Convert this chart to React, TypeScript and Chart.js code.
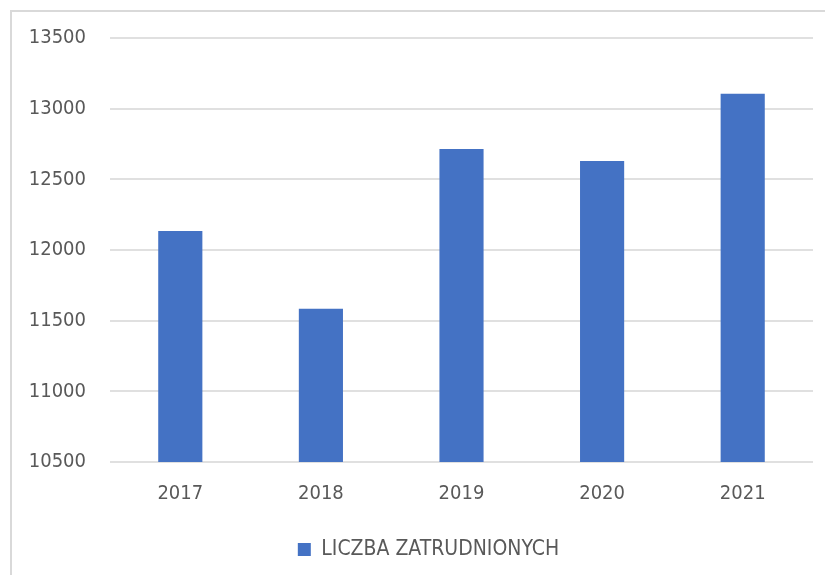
import React, { useEffect, useRef } from "react";
import { Chart, registerables } from "chart.js";

Chart.register(...registerables);

const categories = ["2017", "2018", "2019", "2020", "2021"];
const employees = [12135, 11585, 12715, 12630, 13105];
const seriesLabel = "LICZBA ZATRUDNIONYCH";
const yMin = 10500;
const yMax = 13500;
const yStep = 500;

const FONT = "'DejaVu Sans Condensed', 'Liberation Sans Narrow', 'DejaVu Sans', sans-serif";

const legendShift = {
  id: "legendShift",
  afterLayout(chart: any) {
    const lg = chart.legend;
    if (lg) {
      lg.left += 16;
      lg.right += 16;
    }
  },
};

export default function App() {
  const ref = useRef<HTMLCanvasElement | null>(null);

  useEffect(() => {
    document.body.style.margin = "0";
    const ctx = ref.current;
    if (!ctx) return;
    const chart = new Chart(ctx, {
      type: "bar",
      data: {
        labels: categories,
        datasets: [
          {
            label: seriesLabel,
            data: employees,
            backgroundColor: "#4472C4",
            borderWidth: 0,
            barPercentage: 0.314,
            categoryPercentage: 1.0,
          },
        ],
      },
      plugins: [legendShift],
      options: {
        animation: false,
        responsive: false,
        maintainAspectRatio: false,
        layout: { padding: { left: 0, right: 12, top: 26, bottom: 5 } },
        plugins: {
          tooltip: { enabled: false },
          legend: {
            position: "bottom",
            labels: {
              boxWidth: 13,
              boxHeight: 13,
              padding: 12,
              color: "#595959",
              font: { family: FONT, size: 21 },
            },
          },
        },
        scales: {
          x: {
            grid: { display: false },
            border: { display: false },
            ticks: {
              color: "#595959",
              font: { family: FONT, size: 20 },
              padding: 12,
            },
            afterFit: (s: any) => {
              s.height = 65;
            },
          },
          y: {
            min: yMin,
            max: yMax,
            border: { display: false },
            grid: { color: "#e0e0e0", lineWidth: 2, drawTicks: false },
            ticks: {
              stepSize: yStep,
              color: "#595959",
              font: { family: FONT, size: 20 },
              padding: 24,
              callback: (v: any) => String(v),
            },
            afterFit: (s: any) => {
              s.width = 98;
              s.paddingTop = 0;
              s.paddingBottom = 0;
            },
          },
        },
      },
    });
    return () => chart.destroy();
  }, []);

  return (
    <div
      style={{
        position: "absolute",
        left: 10,
        top: 10,
        width: 815,
        height: 565,
        borderLeft: "2px solid #d9d9d9",
        borderTop: "2px solid #d9d9d9",
        background: "#fff",
      }}
    >
      <canvas ref={ref} width={813} height={563} style={{ display: "block" }} />
    </div>
  );
}
